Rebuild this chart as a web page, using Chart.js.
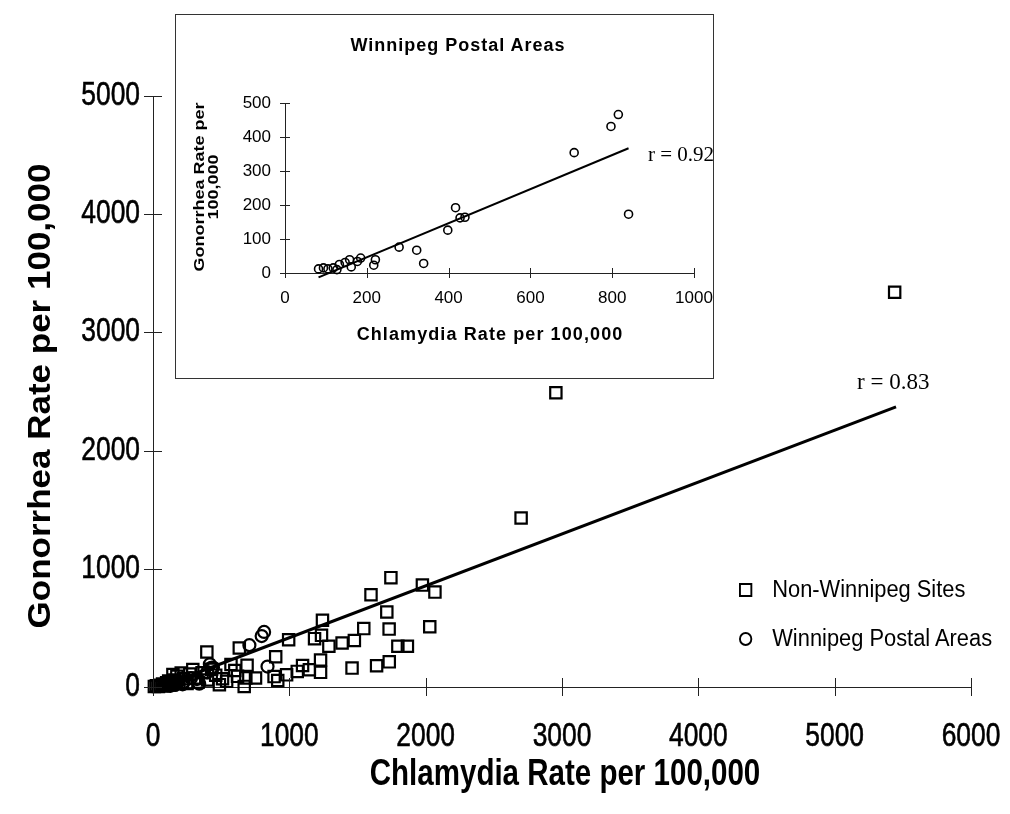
<!DOCTYPE html>
<html>
<head>
<meta charset="utf-8">
<script src="https://cdn.jsdelivr.net/npm/chart.js@4.4.0/dist/chart.umd.min.js"></script>
<style>
  body { margin: 0; background: #fff; }
  #wrap { position: relative; width: 1010px; height: 814px; overflow: hidden; }
  #main { position: absolute; left: 0; top: 0; }
  #insetBox { position: absolute; left: 175px; top: 14px; width: 537px; height: 363px; border: 1px solid #333; background: #fff; }
  #inset { position: absolute; left: 0; top: 0; }
  .txt { position: absolute; white-space: nowrap; color: #000; }
  #insetTitle { left: 0; width: 564px; top: 20px; text-align: center; font: bold 18px "Liberation Sans", Arial, sans-serif; letter-spacing: 1px; }
  #r2 { left: 472px; top: 127px; font: 21px "Liberation Serif", "Times New Roman", serif; }
  #r1 { left: 857px; top: 369px; font: 23px "Liberation Serif", "Times New Roman", serif; }
  .leg { position: absolute; left: 739px; font: 23px "Liberation Sans", Arial, sans-serif; transform: scaleX(0.95); transform-origin: 0 50%; }
  .leg span.m { display: inline-block; width: 10px; height: 10px; border: 2px solid #000; margin-right: 21px; vertical-align: 0px; }
  .leg span.c { border-radius: 50%; }
</style>
</head>
<body>
<div id="wrap">
  <canvas id="main" width="1010" height="814"></canvas>
  <div id="insetBox">
    <canvas id="inset" width="537" height="363"></canvas>
    <div class="txt" id="insetTitle">Winnipeg Postal Areas</div>
    <div class="txt" id="r2">r = 0.92</div>
  </div>
  <div class="txt" id="r1">r = 0.83</div>
  <div class="txt leg" style="top:576px"><span class="m"></span>Non-Winnipeg Sites</div>
  <div class="txt leg" style="top:625px"><span class="m c"></span>Winnipeg Postal Areas</div>
</div>
<script>
// Non-Winnipeg sites (chlamydia, gonorrhea per 100,000)
const nonWpgX = [5440, 2955, 2700, 1745, 1976, 2068, 1599, 1715, 1243, 1546, 1732, 2030, 1236, 1185, 995, 1290, 1387, 1477, 1796, 1866,
  900, 1733, 1640, 1460, 1229, 1229, 1147, 1097, 1058, 980, 915, 633, 395, 752, 669, 690, 888,
  10, 25, 40, 55, 70, 85, 100, 115, 130, 146, 160, 175, 190, 207, 225, 250, 270, 292, 304, 330, 360, 400, 430, 460, 487, 510, 540, 572, 600, 620, 681];
const nonWpgY = [3340, 2490, 1430, 925, 862, 803, 780, 635, 565, 494, 490, 510, 437, 409, 400, 345, 372, 393, 345, 345,
  256, 213, 180, 160, 124, 228, 146, 182, 132, 103, 55, 330, 296, 76, 5, 184, 88,
  5, 10, 5, 15, 25, 10, 35, 50, 20, 105, 60, 90, 40, 119, 70, 30, 110, 148, 77, 40, 120, 60, 150, 100, 20, 70, 48, 190, 140, 90, 77];

// Winnipeg postal areas
const wpgX = [82, 94, 105, 118, 127, 133, 147, 158, 162, 177, 185, 217, 221, 279, 322, 339, 398, 417, 428, 440, 707, 797, 815, 840];
const wpgY = [12, 15, 12, 15, 10, 25, 31, 39, 18, 34, 44, 23, 39, 76, 67, 28, 126, 192, 162, 164, 354, 431, 466, 173];

// fitted lines (end points)
const mainFitX = [50, 5450];
const mainFitY = [0, 2370];
const insetFitX = [82, 840];
const insetFitY = [-13, 367];

const mainXTicks = [0, 1000, 2000, 3000, 4000, 5000, 6000];
const mainYTicks = [0, 1000, 2000, 3000, 4000, 5000];
const insetXTicks = [0, 200, 400, 600, 800, 1000];
const insetYTicks = [0, 100, 200, 300, 400, 500];

const SANS = "'Liberation Sans', Arial, sans-serif";

const pts = (xs, ys) => xs.map((x, i) => ({ x: x, y: ys[i] }));

// tick marks that cross the axis lines
const crossTicks = {
  id: 'crossTicks',
  afterDatasetsDraw(chart, args, opts) {
    const { ctx, scales: { x, y } } = chart;
    const len = opts.len || 8;
    ctx.save();
    ctx.strokeStyle = '#222';
    ctx.lineWidth = 1;
    ctx.beginPath();
    x.ticks.forEach(t => {
      const px = Math.round(x.getPixelForValue(t.value)) + 0.5;
      ctx.moveTo(px, y.bottom - len);
      ctx.lineTo(px, y.bottom + len);
    });
    y.ticks.forEach(t => {
      const py = Math.round(y.getPixelForValue(t.value)) + 0.5;
      ctx.moveTo(x.left - len, py);
      ctx.lineTo(x.left + len, py);
    });
    ctx.stroke();
    ctx.restore();
  }
};

// tick labels and axis titles, drawn a little condensed like the scanned figure
const axisText = {
  id: 'axisText',
  afterDraw(chart, args, o) {
    const { ctx, scales: { x, y } } = chart;
    ctx.save();
    ctx.fillStyle = '#000';
    ctx.strokeStyle = '#000';
    ctx.lineWidth = o.weight || 0;
    ctx.textBaseline = 'middle';
    ctx.font = o.tickFont;
    const put = (text, px, py) => {
      ctx.save();
      ctx.translate(px, py);
      ctx.scale(o.squeeze, 1);
      ctx.fillText(text, 0, 0);
      if (o.weight) ctx.strokeText(text, 0, 0);
      ctx.restore();
    };
    ctx.textAlign = 'center';
    x.ticks.forEach(t => put(String(t.value), x.getPixelForValue(t.value), y.bottom + o.xLabelGap));
    ctx.textAlign = 'right';
    y.ticks.forEach(t => put(String(t.value), x.left - o.yLabelGap, y.getPixelForValue(t.value)));

    const xt = o.xTitle;
    ctx.save();
    ctx.font = xt.font;
    ctx.letterSpacing = xt.spacing || '0px';
    ctx.textAlign = 'center';
    ctx.translate(xt.x, xt.y);
    ctx.scale(xt.squeeze, 1);
    ctx.fillText(xt.text, 0, 0);
    ctx.restore();

    const yt = o.yTitle;
    ctx.save();
    ctx.font = yt.font;
    ctx.textAlign = 'center';
    ctx.translate(yt.x, yt.y);
    ctx.rotate(-Math.PI / 2);
    ctx.scale(1, yt.squeeze);
    yt.lines.forEach((line, i) => ctx.fillText(line, 0, i * yt.lineGap));
    ctx.restore();
    ctx.restore();
  }
};

function setTicks(list) {
  return scale => { scale.ticks = list.map(v => ({ value: v })); };
}

const hidden = { display: false };

new Chart(document.getElementById('main'), {
  type: 'scatter',
  data: {
    datasets: [
      {
        label: 'Fit',
        type: 'line',
        data: pts(mainFitX, mainFitY),
        borderColor: '#000',
        borderWidth: 3,
        pointRadius: 0,
        clip: false
      },
      {
        label: 'Non-Winnipeg Sites',
        data: pts(nonWpgX, nonWpgY),
        pointStyle: 'rect',
        pointRadius: 8,
        borderWidth: 2.2,
        borderColor: '#000',
        backgroundColor: 'rgba(255,255,255,0)',
        clip: false
      },
      {
        label: 'Winnipeg Postal Areas',
        data: pts(wpgX, wpgY),
        pointStyle: 'circle',
        pointRadius: 6,
        borderWidth: 2.2,
        borderColor: '#000',
        backgroundColor: 'rgba(255,255,255,0)',
        clip: false
      }
    ]
  },
  options: {
    responsive: false,
    animation: false,
    events: [],
    layout: { padding: { top: 96, right: 39, left: 0, bottom: 0 } },
    plugins: {
      legend: hidden, tooltip: { enabled: false },
      crossTicks: { len: 9 },
      axisText: {
        tickFont: '33px ' + SANS, squeeze: 0.8, weight: 0.6, xLabelGap: 50, yLabelGap: 13,
        xTitle: { text: 'Chlamydia Rate per 100,000', font: 'bold 36px ' + SANS, squeeze: 0.82, x: 565, y: 775 },
        yTitle: { lines: ['Gonorrhea Rate per 100,000'], font: 'bold 35px ' + SANS, squeeze: 0.92, x: 41, y: 396, lineGap: 0 }
      }
    },
    scales: {
      x: {
        type: 'linear', min: 0, max: 6000,
        afterBuildTicks: setTicks(mainXTicks),
        afterFit: s => { s.height = 127; },
        grid: { display: false, drawTicks: false },
        border: { display: true, color: '#222', width: 1 },
        ticks: hidden, title: hidden
      },
      y: {
        type: 'linear', min: 0, max: 5000,
        afterBuildTicks: setTicks(mainYTicks),
        afterFit: s => { s.width = 153; },
        grid: { display: false, drawTicks: false },
        border: { display: true, color: '#222', width: 1 },
        ticks: hidden, title: hidden
      }
    }
  },
  plugins: [crossTicks, axisText]
});

new Chart(document.getElementById('inset'), {
  type: 'scatter',
  data: {
    datasets: [
      {
        label: 'Fit',
        type: 'line',
        data: pts(insetFitX, insetFitY),
        borderColor: '#000',
        borderWidth: 2,
        pointRadius: 0,
        clip: false
      },
      {
        label: 'Winnipeg Postal Areas',
        data: pts(wpgX, wpgY),
        pointStyle: 'circle',
        pointRadius: 4,
        borderWidth: 1.6,
        borderColor: '#000',
        backgroundColor: 'rgba(255,255,255,0)',
        clip: false
      }
    ]
  },
  options: {
    responsive: false,
    animation: false,
    events: [],
    layout: { padding: { top: 88, right: 19, left: 0, bottom: 0 } },
    plugins: {
      legend: hidden, tooltip: { enabled: false },
      crossTicks: { len: 5 },
      axisText: {
        tickFont: '17px ' + SANS, squeeze: 1, xLabelGap: 25, yLabelGap: 14,
        xTitle: { text: 'Chlamydia Rate per 100,000', font: 'bold 18px ' + SANS, squeeze: 1, spacing: '1.1px', x: 314, y: 320 },
        yTitle: { lines: ['Gonorrhea Rate per', '100,000'], font: 'bold 18px ' + SANS, squeeze: 0.85, x: 24, y: 172, lineGap: 16 }
      }
    },
    scales: {
      x: {
        type: 'linear', min: 0, max: 1000,
        afterBuildTicks: setTicks(insetXTicks),
        afterFit: s => { s.height = 105; },
        grid: { display: false, drawTicks: false },
        border: { display: true, color: '#222', width: 1 },
        ticks: hidden, title: hidden
      },
      y: {
        type: 'linear', min: 0, max: 500,
        afterBuildTicks: setTicks(insetYTicks),
        afterFit: s => { s.width = 109; },
        grid: { display: false, drawTicks: false },
        border: { display: true, color: '#222', width: 1 },
        ticks: hidden, title: hidden
      }
    }
  },
  plugins: [crossTicks, axisText]
});
</script>
</body>
</html>
